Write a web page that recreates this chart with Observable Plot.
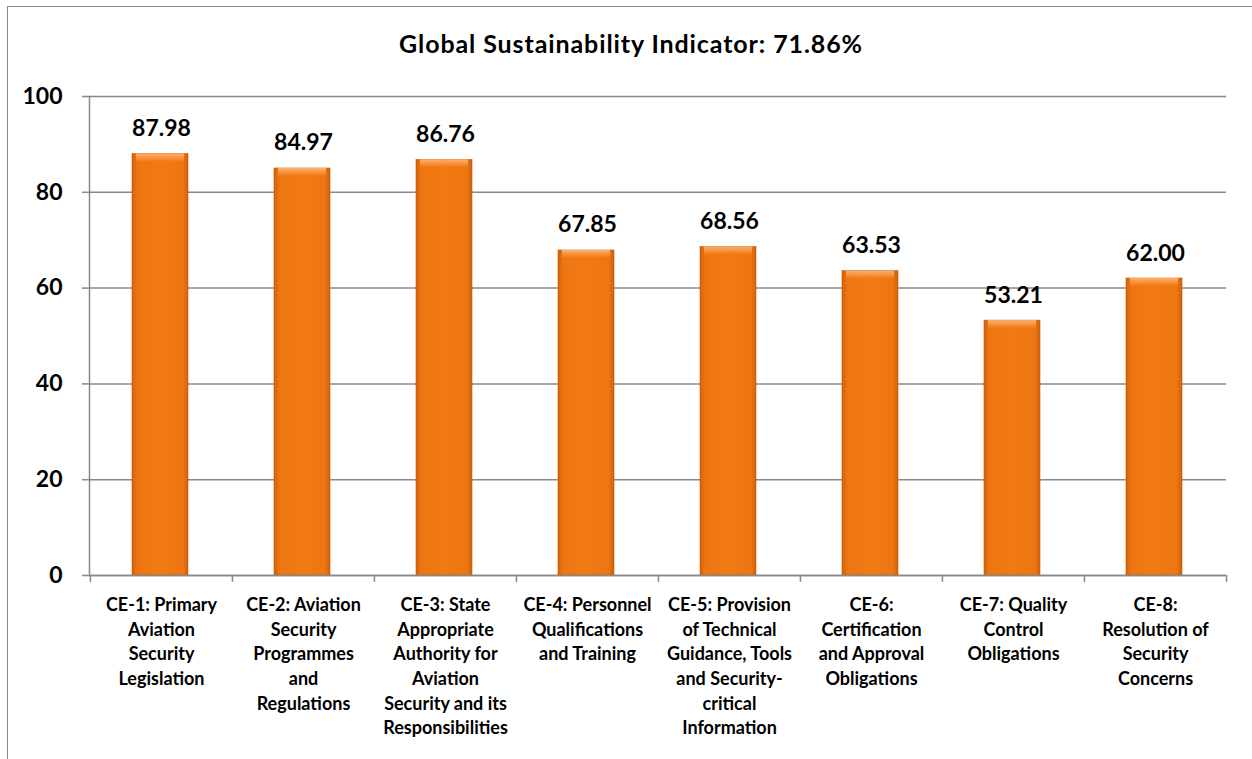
<!DOCTYPE html>
<html>
<head>
<meta charset="utf-8">
<script src="https://cdn.jsdelivr.net/npm/d3@7"></script>
<script src="https://cdn.jsdelivr.net/npm/@observablehq/plot@0.6"></script>
<style>
  html, body { margin: 0; padding: 0; background: #fff; }
  #wrap { position: relative; width: 1252px; height: 759px; overflow: hidden; font-family: Lato, "DejaVu Sans", sans-serif; }
  #border { position: absolute; left: 7px; top: 6px; width: 1270px; height: 780px; border: 1.5px solid #8a8a8a; box-sizing: border-box; }
  #title { position: absolute; left: 7px; width: 1248px; top: 28px; text-align: center; font-weight: bold; font-size: 25px; letter-spacing: 0.9px; color: #000; }
  #chart { position: absolute; left: 0; top: 0; }
</style>
</head>
<body>
<div id="wrap">
  <div id="border"></div>
  <div id="title">Global Sustainability Indicator: 71.86%</div>
  <div id="chart"></div>
</div>
<script>
const codes = ["CE-1", "CE-2", "CE-3", "CE-4", "CE-5", "CE-6", "CE-7", "CE-8"];
const labels = [
  "CE-1: Primary\nAviation\nSecurity\nLegislation",
  "CE-2: Aviation\nSecurity\nProgrammes\nand\nRegulations",
  "CE-3: State\nAppropriate\nAuthority for\nAviation\nSecurity and its\nResponsibilities",
  "CE-4: Personnel\nQualifications\nand Training",
  "CE-5: Provision\nof Technical\nGuidance, Tools\nand Security-\ncritical\nInformation",
  "CE-6:\nCertification\nand Approval\nObligations",
  "CE-7: Quality\nControl\nObligations",
  "CE-8:\nResolution of\nSecurity\nConcerns"
];
const values = [87.98, 84.97, 86.76, 67.85, 68.56, 63.53, 53.21, 62.00];
const yTicks = [0, 20, 40, 60, 80, 100];

const data = codes.map((c, i) => ({code: c, label: labels[i], value: values[i]}));
const labelOf = Object.fromEntries(codes.map((c, i) => [c, labels[i]]));

const W = 1252, H = 759;
const mL = 89, mR = 26, mT = 96, mB = 184;
const bw = (W - mL - mR) / codes.length;
const gridColor = "#888888";

const chart = Plot.plot({
  width: W,
  height: H,
  marginLeft: mL,
  marginRight: mR,
  marginTop: mT,
  marginBottom: mB,
  style: {fontFamily: "Lato, 'DejaVu Sans', sans-serif", background: "transparent", overflow: "visible"},
  x: {type: "band", domain: codes, paddingInner: 0, paddingOuter: 0},
  y: {domain: [0, 100]},
  marks: [
    Plot.gridY(yTicks, {stroke: gridColor, strokeOpacity: 1, strokeWidth: 1.5}),
    Plot.frame({anchor: "left", stroke: gridColor, strokeWidth: 1.5}),
    Plot.axisY(yTicks, {
      tickSize: 7, tickPadding: 20, stroke: gridColor, strokeWidth: 1.5,
      fontSize: 23, fontWeight: "bold", fill: "#000", label: null
    }),
    Plot.barY(data, {
      x: "code", y: "value", fill: "url(#bargrad)", insetLeft: 42, insetRight: 44,
      stroke: "#c65a06", strokeWidth: 0.6,
      style: "filter: drop-shadow(1.5px 2px 2px rgba(0,0,0,0.35))"
    }),
    Plot.barY(data, {
      x: "code", y1: d => d.value - 1.6, y2: "value", fill: "url(#topgrad)",
      insetLeft: 46, insetRight: 48
    }),
    Plot.ruleY([0], {stroke: gridColor, strokeWidth: 1.5}),
    Plot.ruleX(codes, {x: d => d, dx: -bw / 2, y1: 0, y2: -1.45, stroke: gridColor, strokeWidth: 1.5}),
    Plot.ruleX([codes[codes.length - 1]], {x: d => d, dx: bw / 2, y1: 0, y2: -1.45, stroke: gridColor, strokeWidth: 1.5}),
    Plot.text(data, {
      x: "code", y: "value", text: d => d.value.toFixed(2), lineAnchor: "bottom", dy: -18,
      fontSize: 23, fontWeight: "bold", fill: "#000"
    }),
    Plot.axisX({
      tickSize: 0, tickPadding: 18, tickFormat: d => labelOf[d], label: null,
      fontSize: 18, fontWeight: "bold", fill: "#000", lineHeight: 1.37,
      style: "letter-spacing: 0.4px"
    })
  ]
});

const ns = "http://www.w3.org/2000/svg";
const defs = document.createElementNS(ns, "defs");
defs.innerHTML = `
  <linearGradient id="bargrad" x1="0" x2="1" y1="0" y2="0">
    <stop offset="0" stop-color="#cf6008"/>
    <stop offset="0.09" stop-color="#ee7612"/>
    <stop offset="0.5" stop-color="#f27a14"/>
    <stop offset="0.91" stop-color="#ee7612"/>
    <stop offset="1" stop-color="#cf6008"/>
  </linearGradient>
  <linearGradient id="topgrad" x1="0" x2="0" y1="0" y2="1">
    <stop offset="0" stop-color="#fbb070"/>
    <stop offset="1" stop-color="#f27a14"/>
  </linearGradient>`;
chart.insertBefore(defs, chart.firstChild);
document.getElementById("chart").appendChild(chart);
</script>
</body>
</html>
